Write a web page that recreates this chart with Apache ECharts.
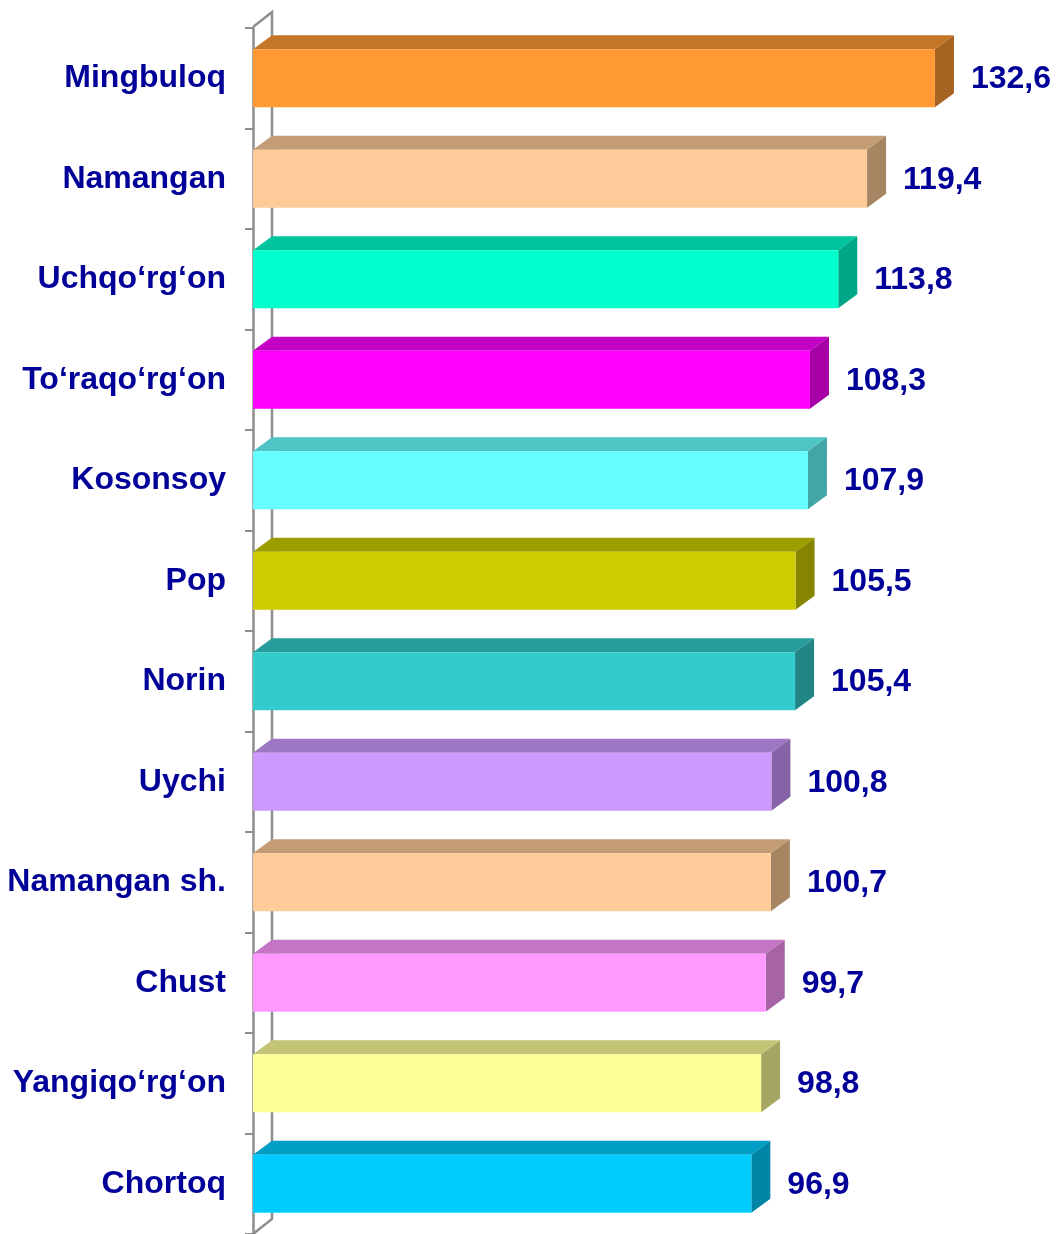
<!DOCTYPE html>
<html>
<head>
<meta charset="utf-8">
<script src="https://cdn.jsdelivr.net/npm/echarts@6/dist/echarts.min.js"></script>
<style>
  html, body { margin: 0; padding: 0; background: #fff; }
  #chart { width: 1064px; height: 1234px; }
</style>
</head>
<body>
<div id="chart"></div>
<script>
// districts, top to bottom
var districts = ['Mingbuloq', 'Namangan', 'Uchqo\u2018rg\u2018on', 'To\u2018raqo\u2018rg\u2018on', 'Kosonsoy', 'Pop',
    'Norin', 'Uychi', 'Namangan sh.', 'Chust', 'Yangiqo\u2018rg\u2018on', 'Chortoq'];
var values = [132.6, 119.4, 113.8, 108.3, 107.9, 105.5, 105.4, 100.8, 100.7, 99.7, 98.8, 96.9];
var barColors = ['#FF9933', '#FFCC99', '#00FFCC', '#FF00FF', '#66FFFF', '#CCCC00',
    '#33CCCC', '#CC99FF', '#FFCC99', '#FF99FF', '#FFFF99', '#00CCFF'];

var DX = 19, DY = 14;
var textColor = '#000099';
var wallColor = '#8E8E8E';

// darker shade for the top / side faces
function shade(hex, k) {
    var n = parseInt(hex.slice(1), 16);
    var r = Math.round(((n >> 16) & 255) * k);
    var g = Math.round(((n >> 8) & 255) * k);
    var b = Math.round((n & 255) * k);
    return 'rgb(' + r + ',' + g + ',' + b + ')';
}

function renderBar(params, api) {
    var idx = api.value(0);
    var val = api.value(1);
    var start = api.coord([0, idx]);
    var end = api.coord([val, idx]);
    var band = api.size([0, 1])[1];
    var h = band * 0.575;
    var x0 = start[0], x1 = end[0];
    var y0 = end[1] - h / 2, y1 = y0 + h;
    var col = barColors[params.dataIndex];
    var children = [];

    // back wall of the category axis (drawn once)
    if (params.dataIndex === 0) {
        var cs = params.coordSys;
        var top = cs.y - 1, bot = cs.y + cs.height;
        children.push({
            type: 'polyline',
            shape: { points: [[cs.x, top], [cs.x + DX, top - 15], [cs.x + DX, bot - 15], [cs.x, bot]] },
            style: { fill: null, stroke: wallColor, lineWidth: 2.5 },
            z2: 0
        });
    }

    children.push({
        type: 'polygon',
        shape: { points: [[x0, y0], [x0 + DX, y0 - DY], [x1 + DX, y0 - DY], [x1, y0]] },
        style: { fill: shade(col, 0.77) }
    });
    children.push({
        type: 'polygon',
        shape: { points: [[x1, y0], [x1 + DX, y0 - DY], [x1 + DX, y1 - DY], [x1, y1]] },
        style: { fill: shade(col, 0.65) }
    });
    children.push({
        type: 'rect',
        shape: { x: x0, y: y0, width: x1 - x0, height: h },
        style: { fill: col }
    });
    children.push({
        type: 'text',
        x: x1 + DX + 17,
        y: end[1] + 1,
        style: {
            text: val.toFixed(1).replace('.', ','),
            fill: textColor,
            font: 'bold 32px "Liberation Sans", Arial, sans-serif',
            verticalAlign: 'middle',
            align: 'left'
        }
    });
    return { type: 'group', children: children };
}

var chart = echarts.init(document.getElementById('chart'));
var option = {
    animation: false,
    grid: { left: 253, top: 28, width: 720, height: 1212, containLabel: false },
    xAxis: {
        type: 'value',
        min: 0,
        max: 140,
        show: false
    },
    yAxis: {
        type: 'category',
        inverse: true,
        data: districts,
        axisLine: { show: true, lineStyle: { color: wallColor, width: 2.5 } },
        axisTick: { show: true, length: 8, alignWithLabel: false, lineStyle: { color: wallColor, width: 2 } },
        axisLabel: {
            margin: 27,
            color: textColor,
            fontSize: 32,
            fontWeight: 'bold',
            fontFamily: '"Liberation Sans", Arial, sans-serif'
        },
        splitLine: { show: false }
    },
    series: [{
        type: 'custom',
        renderItem: renderBar,
        encode: { x: 1, y: 0 },
        data: values.map(function (v, i) { return [i, v]; })
    }]
};
chart.setOption(option);
</script>
</body>
</html>
